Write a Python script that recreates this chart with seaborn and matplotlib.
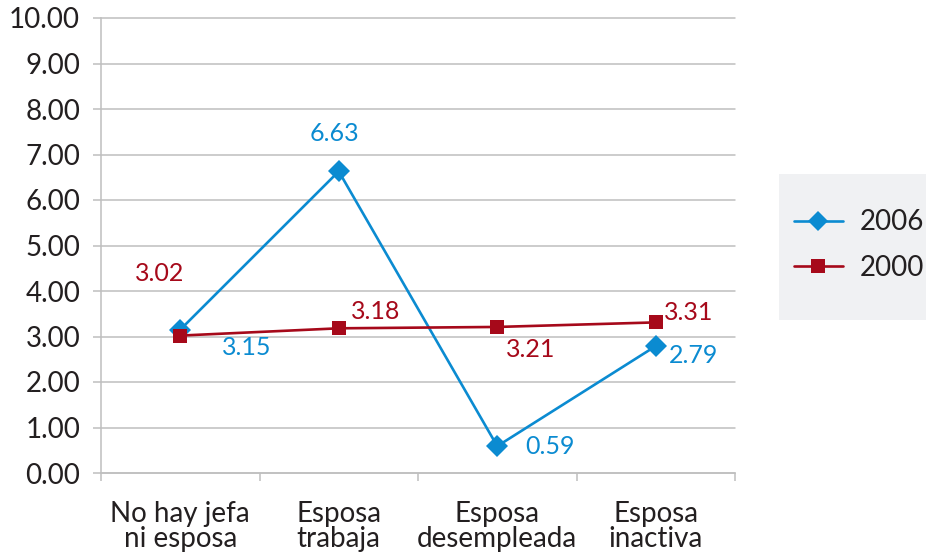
import numpy as np
import pandas as pd
import matplotlib
matplotlib.use("Agg")
import matplotlib.pyplot as plt
import seaborn as sns
from matplotlib.patches import Rectangle
from matplotlib.ticker import FixedLocator, FormatStrFormatter

# --- data -------------------------------------------------------------
categories = ["No hay jefa\nni esposa", "Esposa\ntrabaja",
              "Esposa\ndesempleada", "Esposa\ninactiva"]
years = ["2006", "2000"]
values_2006 = [3.15, 6.63, 0.59, 2.79]
values_2000 = [3.02, 3.18, 3.21, 3.31]
y_ticks = [0, 1, 2, 3, 4, 5, 6, 7, 8, 9, 10]

series = {"2006": values_2006, "2000": values_2000}
df = pd.DataFrame({
    "categoria": categories * len(years),
    "anio": [y for y in years for _ in categories],
    "valor": values_2006 + values_2000,
})

# --- style ------------------------------------------------------------
BLUE = "#0B8BD1"
RED = "#A6091A"
GRID = "#BFBFBF"
TEXT = "#231F20"
palette = {"2006": BLUE, "2000": RED}
markers = {"2006": "D", "2000": "s"}
marker_sizes = {"2006": 11, "2000": 10}

# value-label offsets in points (dx, dy, ha)
label_offsets = {
    "2006": [(48, -13, "center"), (-3, 27, "center"), (38, 0, "center"), (27, -7, "center")],
    "2000": [(-15, 45, "center"), (9, 12, "left"), (24, -16, "center"), (24, 7, "center")],
}

sns.set_theme(style="white")
plt.rcParams["font.family"] = ["Lato", "DejaVu Sans"]

fig = plt.figure(figsize=(9.26, 5.52), dpi=100)
ax = fig.add_axes([101 / 926, 79 / 552, (735 - 101) / 926, (473 - 18) / 552])

sns.lineplot(data=df, x="categoria", y="valor", hue="anio", style="anio",
             hue_order=years, style_order=years, palette=palette,
             markers=markers, dashes=False, sort=False, linewidth=1.9,
             markersize=10, markeredgewidth=0, ax=ax)

for line, yr in zip(ax.lines, years):
    line.set_markersize(marker_sizes[yr])

# value labels
for yr in years:
    for i, v in enumerate(series[yr]):
        dx, dy, ha = label_offsets[yr][i]
        ax.annotate(f"{v:.2f}", xy=(i, v), xytext=(dx, dy),
                    textcoords="offset points", ha=ha, va="center",
                    color=palette[yr], fontsize=18)

# axes
ax.set_xlim(-0.5, len(categories) - 0.5)
ax.set_ylim(0, 10)
ax.yaxis.set_major_locator(FixedLocator(y_ticks))
ax.yaxis.set_major_formatter(FormatStrFormatter("%.2f"))
ax.set_xticks(range(len(categories)))
ax.set_xticklabels(categories)
ax.xaxis.set_minor_locator(FixedLocator(np.arange(len(categories) + 1) - 0.5))
ax.set_xlabel("")
ax.set_ylabel("")

ax.grid(axis="y", color=GRID, linewidth=1.1)
ax.grid(axis="x", visible=False)
for gl in ax.get_ygridlines():
    gl.set_clip_on(False)
ax.set_axisbelow(True)

for side in ("top", "right"):
    ax.spines[side].set_visible(False)
for side in ("left", "bottom"):
    ax.spines[side].set_color(GRID)
    ax.spines[side].set_linewidth(1.1)

ax.tick_params(axis="y", which="major", direction="out", length=6, width=1.1,
               color=GRID, labelsize=20, labelcolor=TEXT, pad=9, left=True)
ax.tick_params(axis="x", which="major", length=0, labelsize=20,
               labelcolor=TEXT, pad=20)
ax.tick_params(axis="x", which="minor", direction="out", length=6, width=1.1,
               color=GRID, bottom=True)
for lbl in ax.get_xticklabels():
    lbl.set_linespacing(0.95)
    lbl.set_verticalalignment("top")

# legend on a light panel
handles, labels = ax.get_legend_handles_labels()
ax.get_legend().remove()
fig.patches.append(Rectangle((779 / 926, (552 - 320) / 552), (926 - 779) / 926,
                             146 / 552, transform=fig.transFigure,
                             facecolor="#F0F1F3", edgecolor="none", zorder=0))
leg = fig.legend(handles, labels, loc="center left",
                 bbox_to_anchor=(794 / 926, (552 - 245) / 552),
                 frameon=False, fontsize=20, handlelength=1.75,
                 handletextpad=0.6, labelspacing=0.7, borderpad=0,
                 borderaxespad=0)
for t in leg.get_texts():
    t.set_color(TEXT)

fig.savefig("out.png", dpi=100)
